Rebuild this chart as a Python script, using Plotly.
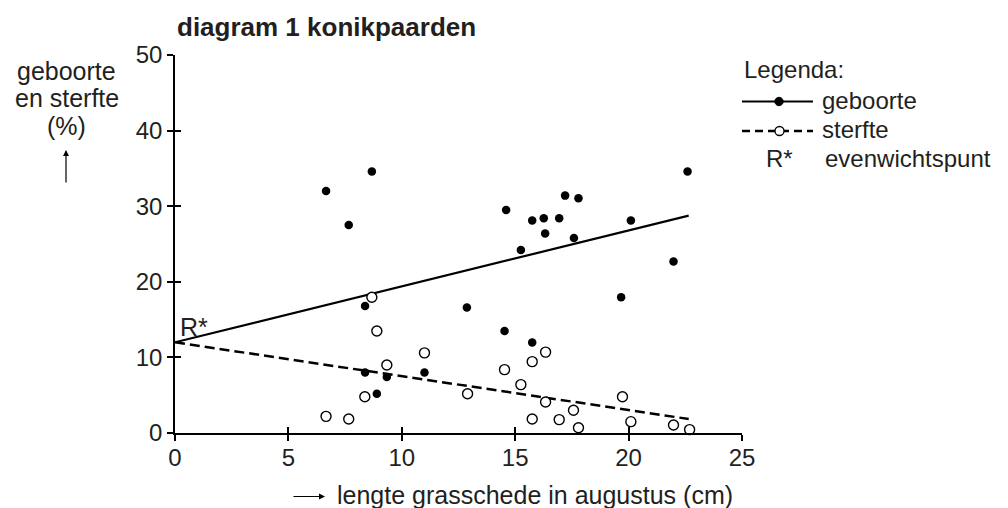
import plotly.graph_objects as go

# ---- data ----
birth_x = [6.66, 8.68, 7.66, 8.38, 8.38, 9.34, 8.9, 11.0, 12.87,
           22.6, 17.2, 17.79, 14.6, 15.75, 16.26, 16.94, 16.32, 17.59,
           15.25, 20.1, 21.98, 19.67, 14.53, 15.75]
birth_y = [32.0, 34.6, 27.5, 16.8, 8.0, 7.4, 5.2, 8.0, 16.6,
           34.6, 31.4, 31.05, 29.5, 28.1, 28.4, 28.4, 26.4, 25.8,
           24.2, 28.1, 22.7, 17.95, 13.5, 11.96]
death_x = [8.68, 8.9, 9.34, 11.0, 8.37, 6.66, 7.66, 12.9,
           16.34, 15.75, 14.53, 15.25, 16.34, 19.73, 17.57, 15.75,
           16.94, 17.79, 20.1, 21.98, 22.69]
death_y = [17.95, 13.5, 9.0, 10.6, 4.8, 2.2, 1.85, 5.2,
           10.7, 9.44, 8.38, 6.4, 4.1, 4.8, 3.0, 1.85,
           1.77, 0.7, 1.5, 1.06, 0.45]
fit_x = [0, 22.65]
birth_fit = [12.0, 28.75]
death_fit = [12.0, 1.85]
r_star = (0, 12.0)

x_ticks = [0, 5, 10, 15, 20, 25]
y_ticks = [0, 10, 20, 30, 40, 50]

FONT = "Liberation Sans, Arial, sans-serif"
FS = 25
LFS = 24
TFS = 24
TXT = "#231f20"
W, H = 1008, 508
L, R, T, B = 175, 266, 55, 75
PW, PH = W - L - R, H - T - B


def px(x):
    return (x - L) / PW


def py(y):
    return (H - B - y) / PH


fig = go.Figure()

fig.add_trace(go.Scatter(x=fit_x, y=birth_fit, mode="lines",
                         line=dict(color="black", width=2.2), hoverinfo="skip"))
fig.add_trace(go.Scatter(x=fit_x, y=death_fit, mode="lines",
                         line=dict(color="black", width=2.5, dash="10px,5px"),
                         hoverinfo="skip"))
fig.add_trace(go.Scatter(x=birth_x, y=birth_y, mode="markers",
                         marker=dict(color="black", size=8.5),
                         cliponaxis=False))
fig.add_trace(go.Scatter(x=death_x, y=death_y, mode="markers",
                         marker=dict(color="white", size=10,
                                     line=dict(color="black", width=1.4)),
                         cliponaxis=False))
# overlay axes carrying the inward half of the crossing tick marks
fig.add_trace(go.Scatter(x=[None], y=[None], xaxis="x2", yaxis="y2",
                         hoverinfo="skip"))

axis_common = dict(showgrid=False, zeroline=False, linecolor="black",
                   linewidth=1.5, ticks="outside", ticklen=6, tickwidth=1.5,
                   tickcolor="black",
                   tickfont=dict(family=FONT, size=TFS, color=TXT))
fig.update_layout(
    width=W, height=H,
    margin=dict(l=L, r=R, t=T, b=B),
    paper_bgcolor="white", plot_bgcolor="white",
    showlegend=False,
    xaxis=dict(range=[0, 25], tickvals=x_ticks, showline=True,
               ticklabelstandoff=-4, **axis_common),
    yaxis=dict(range=[0, 50], tickvals=y_ticks, showline=True, **axis_common),
    xaxis2=dict(range=[0, 25], tickvals=x_ticks, overlaying="x", anchor="y2",
                showline=False, showgrid=False, zeroline=False,
                ticks="inside", ticklen=6, tickwidth=1.5, tickcolor="black",
                showticklabels=False),
    yaxis2=dict(range=[0, 50], tickvals=y_ticks, overlaying="y", anchor="x2",
                showline=False, showgrid=False, zeroline=False,
                ticks="inside", ticklen=6, tickwidth=1.5, tickcolor="black",
                showticklabels=False),
)


def text_ann(text, x, y, xanchor="left", size=FS, bold=False):
    if bold:
        text = "<b>" + text + "</b>"
    return dict(text=text, xref="paper", yref="paper", x=px(x), y=py(y),
                xanchor=xanchor, yanchor="middle", showarrow=False,
                font=dict(family=FONT, size=size, color=TXT))


ann = []
# title
ann.append(text_ann("diagram 1 konikpaarden", 175, 27, size=26, bold=True))
# y axis title (three lines)
ann.append(text_ann("geboorte", 66, 70.5, xanchor="center"))
ann.append(text_ann("en sterfte", 66.5, 98, xanchor="center"))
ann.append(text_ann("(%)", 66, 125.5, xanchor="center"))
ann.append(dict(text="", xref="paper", yref="paper", x=px(66), y=py(150),
                ax=0, ay=34, showarrow=True, arrowhead=2, arrowsize=1,
                arrowwidth=1.2, arrowcolor="black"))
# x axis title
ann.append(text_ann("lengte grasschede in augustus (cm)", 335, 494.5))
ann.append(dict(text="", xref="paper", yref="paper", x=px(325), y=py(496.5),
                ax=-33, ay=0, showarrow=True, arrowhead=2, arrowsize=1,
                arrowwidth=1.2, arrowcolor="black"))
# R* label
ann.append(dict(text="R*", xref="x", yref="y", x=r_star[0] + 0.12, y=r_star[1] + 2.05,
                xanchor="left", yanchor="middle", showarrow=False,
                font=dict(family=FONT, size=FS, color=TXT)))
# legend
ann.append(text_ann("Legenda:", 742, 69, size=LFS))
ann.append(text_ann("geboorte", 820, 100.5, size=LFS))
ann.append(text_ann("sterfte", 820, 129.5, size=LFS))
ann.append(text_ann("R*", 764, 158, size=LFS))
ann.append(text_ann("evenwichtspunt", 823, 158, size=LFS))

shapes = []
shapes.append(dict(type="line", xref="paper", yref="paper", x0=px(742), x1=px(813),
                   y0=py(101.5), y1=py(101.5), line=dict(color="black", width=2.2)))
shapes.append(dict(type="circle", xref="paper", yref="paper",
                   x0=px(779 - 4.2), x1=px(779 + 4.2),
                   y0=py(101.5 + 4.2), y1=py(101.5 - 4.2),
                   fillcolor="black", line=dict(color="black", width=1)))
shapes.append(dict(type="line", xref="paper", yref="paper", x0=px(742), x1=px(813),
                   y0=py(131), y1=py(131),
                   line=dict(color="black", width=2.5, dash="8px,5px")))
shapes.append(dict(type="circle", xref="paper", yref="paper",
                   x0=px(779.5 - 4.5), x1=px(779.5 + 4.5),
                   y0=py(131 + 4.5), y1=py(131 - 4.5),
                   fillcolor="white", line=dict(color="black", width=1.3)))

fig.update_layout(annotations=ann, shapes=shapes)
fig.write_html("out.html", config={"displayModeBar": False},
               post_script="document.body.style.margin='0';document.body.style.padding='0';")
